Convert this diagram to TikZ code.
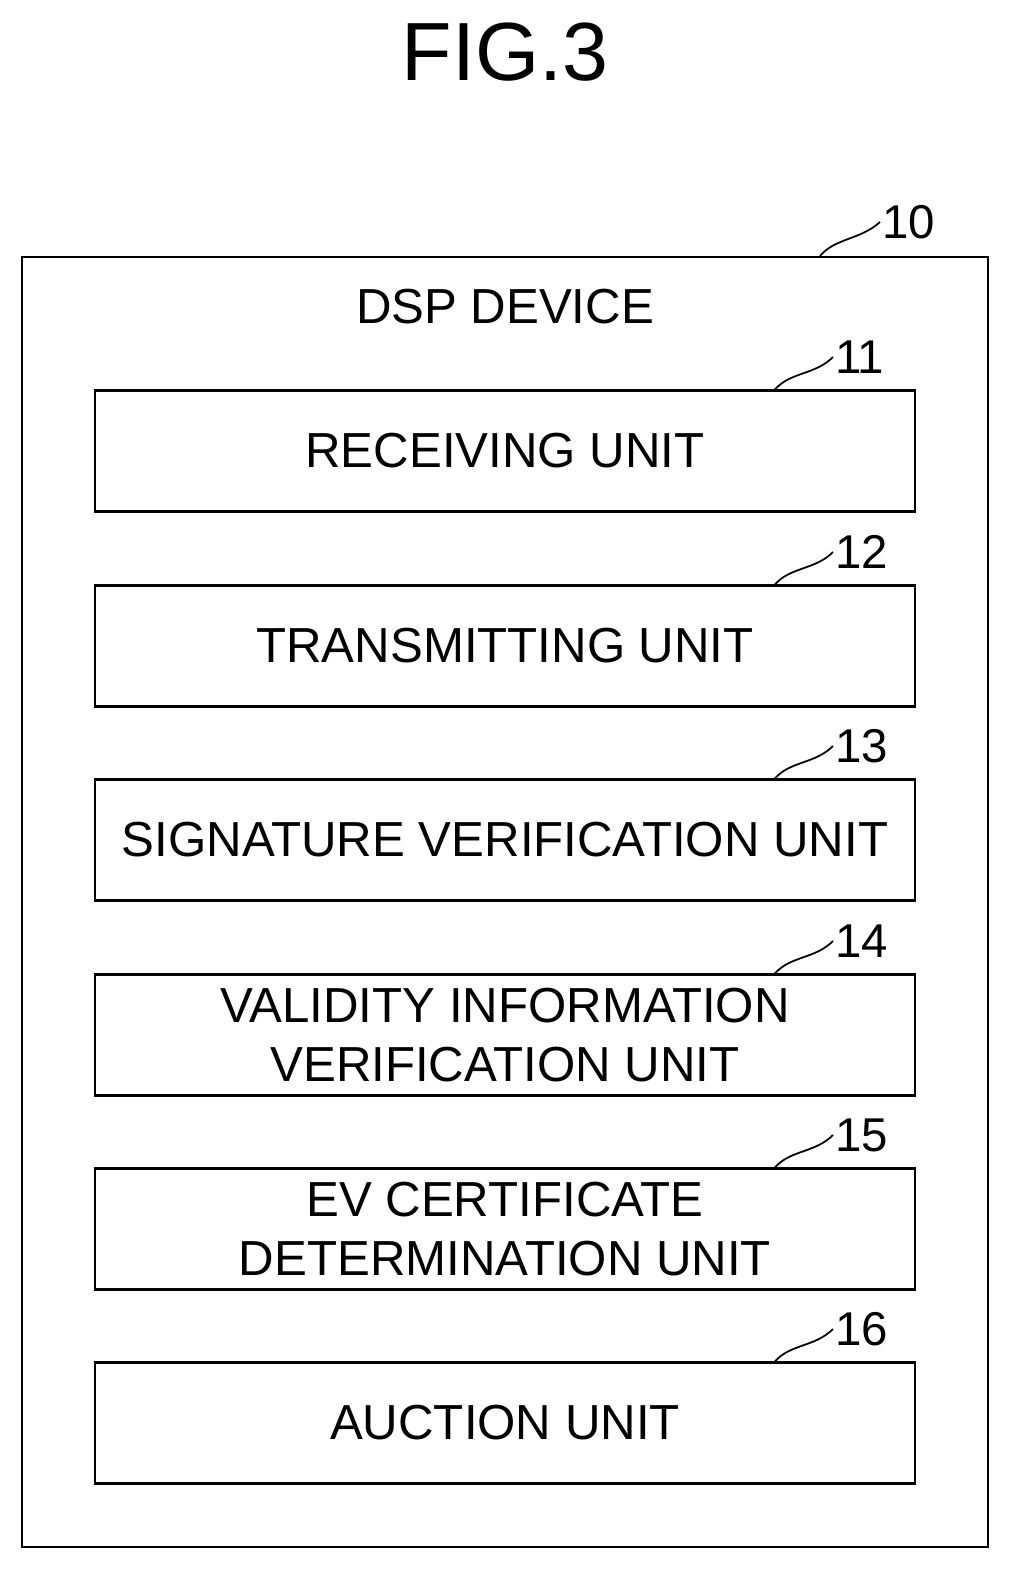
\documentclass[tikz,border=0pt]{standalone}
\usepackage{fontspec}
\setmainfont{Liberation Sans}
\usetikzlibrary{positioning}
\tikzset{
  unitbox/.style={draw=black,line width=1.2pt,minimum width=16.4cm,minimum height=2.42cm,align=center,inner sep=0pt,font=\fontsize{28}{34}\selectfont},
  reflabel/.style={font=\fontsize{27}{30}\selectfont,inner sep=1pt,anchor=west},
  leader/.style={line width=1pt}
}
\begin{document}
\begin{tikzpicture}[x=0.02cm,y=-0.02cm]
\useasboundingbox (0,0) rectangle (1026,1593);
%Title
\node at (505,52) [font=\fontsize{47}{50}\selectfont] (Title) {FIG.3};
%Device Frame
\draw [line width=1.2pt] (22,257) rectangle (988,1547);
\node at (505,307) (Device) {\fontsize{28}{34}\selectfont DSP DEVICE};
\node at (880,222) [reflabel] (Ref10) {10};
\coordinate (Tip10) at (820,256);
\draw [leader] (Tip10) .. controls (835,238) and (860,240) .. (Ref10.west);
%Unit Boxes
\node at (505,451) [unitbox] (Recv) {RECEIVING UNIT};
\node at (505,646) [unitbox] (Trans) {TRANSMITTING UNIT};
\node at (505,840) [unitbox] (Sign) {SIGNATURE VERIFICATION UNIT};
\node at (505,1035) [unitbox] (Valid) {VALIDITY INFORMATION\\VERIFICATION UNIT};
\node at (505,1229) [unitbox] (EvCert) {EV CERTIFICATE\\DETERMINATION UNIT};
\node at (505,1423) [unitbox] (Auction) {AUCTION UNIT};
%Unit Labels
\node at (833,357) [reflabel] (Ref11) {11};
\node at (833,552) [reflabel] (Ref12) {12};
\node at (833,746) [reflabel] (Ref13) {13};
\node at (833,941) [reflabel] (Ref14) {14};
\node at (833,1135) [reflabel] (Ref15) {15};
\node at (833,1329) [reflabel] (Ref16) {16};
%Leaders
\draw [leader] (Recv.north -| 775,0) .. controls (790,372) and (815,375) .. (Ref11.west);
\draw [leader] (Trans.north -| 775,0) .. controls (790,567) and (815,570) .. (Ref12.west);
\draw [leader] (Sign.north -| 775,0) .. controls (790,761) and (815,764) .. (Ref13.west);
\draw [leader] (Valid.north -| 775,0) .. controls (790,956) and (815,959) .. (Ref14.west);
\draw [leader] (EvCert.north -| 775,0) .. controls (790,1150) and (815,1153) .. (Ref15.west);
\draw [leader] (Auction.north -| 775,0) .. controls (790,1344) and (815,1347) .. (Ref16.west);
\end{tikzpicture}
\end{document}
